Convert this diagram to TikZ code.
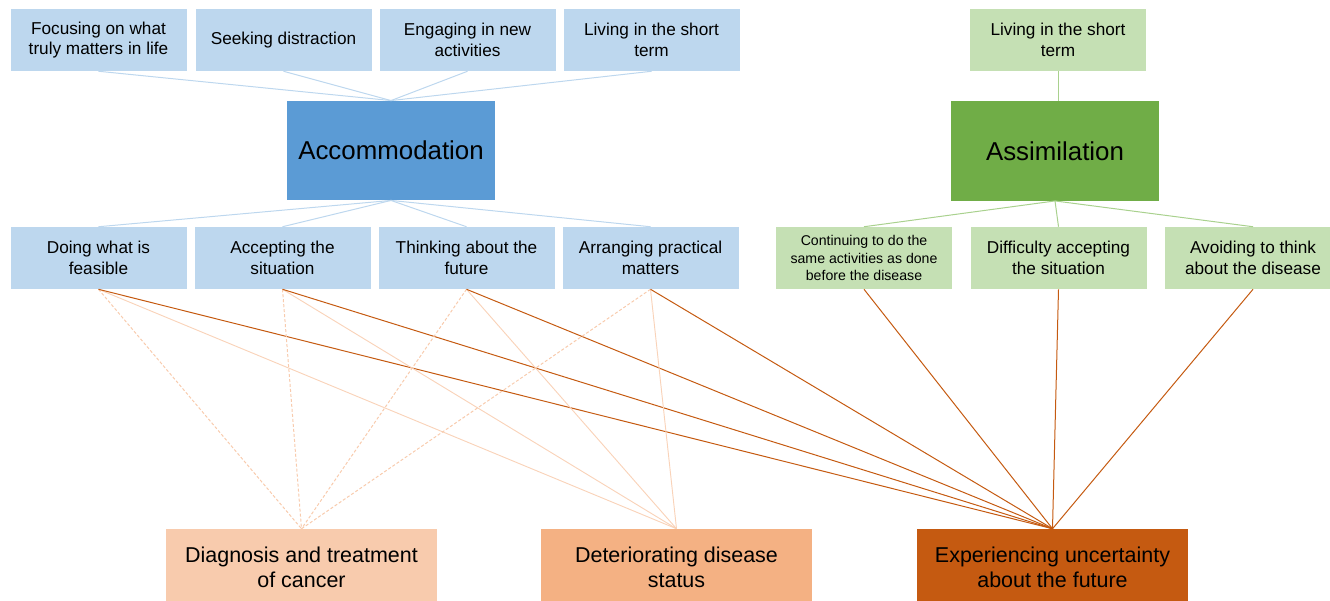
\documentclass[tikz,border=0pt]{standalone}
\usepackage{fontspec}
\setmainfont{Liberation Sans}
\definecolor{lblue}{HTML}{BDD7EE}
\definecolor{dblue}{HTML}{5B9BD5}
\definecolor{lgreen}{HTML}{C5E0B4}
\definecolor{dgreen}{HTML}{70AD47}
\definecolor{greenline}{HTML}{A9D18E}
\definecolor{peach}{HTML}{F8CBAD}
\definecolor{peachline}{HTML}{F9D3B9}
\definecolor{orangemid}{HTML}{F4B183}
\definecolor{orangedark}{HTML}{C55A11}
\begin{document}
\begin{tikzpicture}[x=0.75pt,y=-0.75pt,
  boxbase/.style={rectangle, inner sep=0pt, align=center, text=black},
  smallbox/.style={boxbase, minimum width=132pt, minimum height=46.5pt,
     font=\fontsize{12.9pt}{15.6pt}\selectfont},
  tinytext/.style={font=\fontsize{10.6pt}{12.8pt}\selectfont},
  bigbox/.style={boxbase, minimum width=156pt, minimum height=74.5pt,
     font=\fontsize{19.4pt}{23pt}\selectfont},
  botbox/.style={boxbase, minimum width=203.25pt, minimum height=57.75pt,
     font=\fontsize{16.1pt}{18.8pt}\selectfont},
  bluelink/.style={draw=lblue, line width=0.75pt},
  greenlink/.style={draw=greenline, line width=0.75pt},
  dashlink/.style={draw=peach, line width=0.75pt, dash pattern=on 2.25pt off 1.5pt},
  lightlink/.style={draw=peachline, line width=0.7pt},
  darklink/.style={draw=orangedark, line width=0.75pt}
]
\useasboundingbox (0,0) rectangle (1330,600);

% top row (accommodation)
\node[smallbox, fill=lblue] (t1) at (98.5,40) {Focusing on what\\truly matters in life};
\node[smallbox, fill=lblue] (t2) at (283.5,40) {Seeking distraction};
\node[smallbox, fill=lblue] (t3) at (467.5,40) {Engaging in new\\activities};
\node[smallbox, fill=lblue] (t4) at (651.5,40) {Living in the short\\term};
% top (assimilation)
\node[smallbox, fill=lgreen] (g0) at (1058,40) {Living in the short\\term};

% central boxes
\node[bigbox, fill=dblue] (acc) at (391,150.5) {Accommodation};
\node[bigbox, fill=dgreen] (asm) at (1055,151) {Assimilation};

% middle row
\node[smallbox, fill=lblue] (m1) at (98.5,258) {Doing what is\\feasible};
\node[smallbox, fill=lblue] (m2) at (282.5,258) {Accepting the\\situation};
\node[smallbox, fill=lblue] (m3) at (466.5,258) {Thinking about the\\future};
\node[smallbox, fill=lblue] (m4) at (650.5,258) {Arranging practical\\matters};
\node[smallbox, fill=lgreen, tinytext] (n1) at (864,258) {Continuing to do the\\same activities as done\\before the disease};
\node[smallbox, fill=lgreen] (n2) at (1058.5,258) {Difficulty accepting\\the situation};
\node[smallbox, fill=lgreen] (n3) at (1253,258) {Avoiding to think\\about the disease};

% bottom row
\node[botbox, fill=peach] (b1) at (301.5,567.5) {Diagnosis and treatment\\of cancer};
\node[botbox, fill=orangemid] (b2) at (676.5,567.5) {Deteriorating disease\\status};
\node[botbox, fill=orangedark] (b3) at (1052.5,567.5) {Experiencing uncertainty\\about the future};

% blue connectors
\foreach \n in {t1,t2,t3,t4} \draw[bluelink] (\n.south) -- (acc.north);
\foreach \n in {m1,m2,m3,m4} \draw[bluelink] (acc.south) -- (\n.north);
% green connectors
\draw[greenlink] (g0.south) -- (g0.south |- asm.north);
\foreach \n in {n1,n2,n3} \draw[greenlink] (asm.south) -- (\n.north);

% orange connectors
\foreach \n in {m1,m2,m3,m4} {
  \draw[dashlink] (\n.south) -- (b1.north);
  \draw[lightlink] (\n.south) -- (b2.north);
  \draw[darklink] (\n.south) -- (b3.north);
}
\foreach \n in {n1,n2,n3} \draw[darklink] (\n.south) -- (b3.north);
\end{tikzpicture}
\end{document}
